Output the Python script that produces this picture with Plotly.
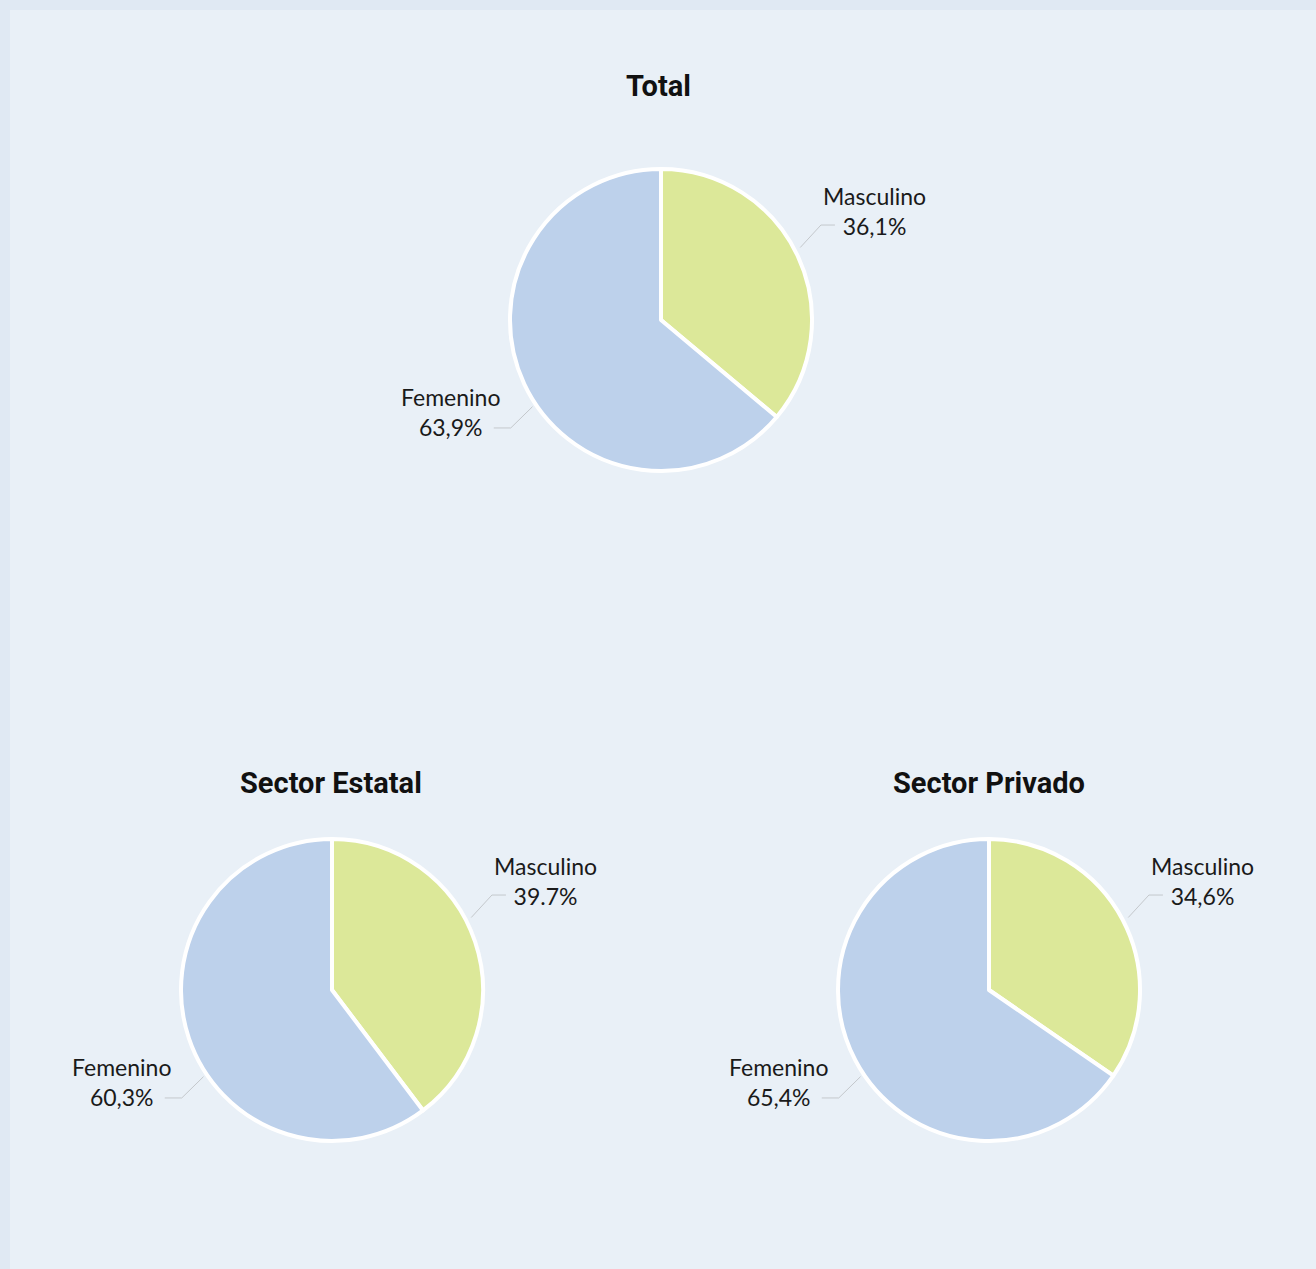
import math
import plotly.graph_objects as go

# ---- data ----
titles = ["Total", "Sector Estatal", "Sector Privado"]
categories = ["Masculino", "Femenino"]
masculino = [36.1, 39.7, 34.6]
femenino = [63.9, 60.3, 65.4]
value_labels = [["36,1%", "63,9%"], ["39.7%", "60,3%"], ["34,6%", "65,4%"]]

# ---- layout constants (pixels) ----
W, H = 1316, 1269
centers = [(661, 320), (332, 990), (989, 990)]
title_pos = [(658, 86), (331, 783), (989, 783)]
R = 151
colors = ["#dce899", "#bdd1eb"]
LABEL_FONT = "Lato"
# connector geometry per side (degrees clockwise from 12 o'clock, radii in px)
CONN = {
    1: dict(a0=62.5, r0=157, a1=59.3, r1=186, hlen=14, text_dx=54, text_dy=-14),
    -1: dict(a0=236.0, r0=155, a1=234.3, r1=185, hlen=17, text_dx=-60, text_dy=-16),
}


def px(x):
    return x / W


def py(y):
    return 1 - y / H


fig = go.Figure()
shapes = []
annotations = []

# panel background
shapes.append(dict(type="rect", xref="paper", yref="paper", x0=px(10), x1=1, y0=0, y1=py(10),
                   fillcolor="#e9f0f7", line=dict(width=0), layer="below"))

for i, (title, (cx, cy), (tx, ty)) in enumerate(zip(titles, centers, title_pos)):
    vals = [masculino[i], femenino[i]]
    fig.add_trace(go.Pie(
        labels=categories, values=vals, sort=False, direction="clockwise", rotation=0,
        marker=dict(colors=colors, line=dict(color="white", width=4)),
        textinfo="none", hoverinfo="label+percent", showlegend=False,
        domain=dict(x=[px(cx - R), px(cx + R)], y=[py(cy + R), py(cy - R)]),
    ))
    annotations.append(dict(text="<b>%s</b>" % title, x=px(tx), y=py(ty), xref="paper", yref="paper",
                            showarrow=False, xanchor="center", yanchor="middle",
                            font=dict(family="Roboto", size=29, color="#111111")))
    total = sum(vals)
    cum = 0
    for j, v in enumerate(vals):
        mid = (cum + v / 2) / total * 2 * math.pi
        cum += v
        side = 1 if math.sin(mid) >= 0 else -1
        c = CONN[side]
        a0, a1 = math.radians(c["a0"]), math.radians(c["a1"])
        x0, y0 = cx + c["r0"] * math.sin(a0), cy - c["r0"] * math.cos(a0)
        x1, y1 = cx + c["r1"] * math.sin(a1), cy - c["r1"] * math.cos(a1)
        x2 = x1 + side * c["hlen"]
        shapes.append(dict(type="path", xref="paper", yref="paper",
                           path="M %f %f L %f %f L %f %f" % (px(x0), py(y0), px(x1), py(y1), px(x2), py(y1)),
                           line=dict(color="#c4c8cc", width=1)))
        annotations.append(dict(text="%s<br>%s" % (categories[j], value_labels[i][j]),
                                x=px(x1 + c["text_dx"]), y=py(y1 + c["text_dy"]), xref="paper", yref="paper",
                                showarrow=False, xanchor="center", yanchor="middle", align="center",
                                font=dict(family=LABEL_FONT, size=23, color="#1a1a1a")))

fig.update_layout(
    width=W, height=H, margin=dict(l=0, r=0, t=0, b=0),
    paper_bgcolor="#e0e9f3", plot_bgcolor="#e9f0f7",
    shapes=shapes, annotations=annotations,
)

fig.write_html("out.html", post_script="document.body.style.margin='0';",
               config={"displayModeBar": False})
